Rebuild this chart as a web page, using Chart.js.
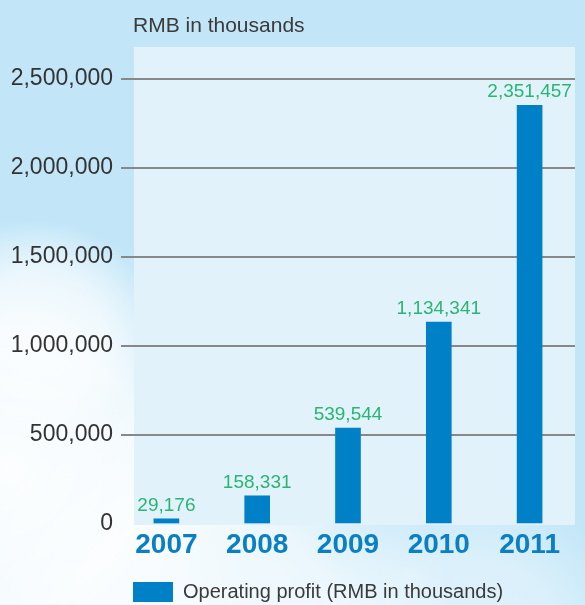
<!DOCTYPE html>
<html>
<head>
<meta charset="utf-8">
<script src="https://cdn.jsdelivr.net/npm/chart.js@4.4.1/dist/chart.umd.min.js"></script>
<style>
  html, body { margin: 0; padding: 0; background: #ffffff; }
  canvas { display: block; }
</style>
</head>
<body>
<canvas id="chart-1" width="585" height="605"></canvas>
<script>
// Operating profit by year
const years = ["2007", "2008", "2009", "2010", "2011"];
const operatingProfit = [29176, 158331, 539544, 1134341, 2351457];
const yMin = 0;
const yMax = 2500000;
const yStep = 500000;
const unitTitle = "RMB in thousands";
const seriesName = "Operating profit (RMB in thousands)";

const FONT = "'Liberation Sans', Arial, Helvetica, sans-serif";
const fmt = (v) => v.toLocaleString("en-US");

// sky background + light panel behind the plot
const skyPanel = {
  id: "skyPanel",
  beforeDraw(chart) {
    const { ctx, width, height, chartArea } = chart;
    ctx.save();
    ctx.fillStyle = "#c2e6f8";
    ctx.fillRect(0, 0, width, height);

    const cloud = (x, y, r, a) => {
      const g = ctx.createRadialGradient(x, y, 0, x, y, r);
      g.addColorStop(0, "rgba(255,255,255," + a + ")");
      g.addColorStop(0.55, "rgba(255,255,255," + a * 0.8 + ")");
      g.addColorStop(1, "rgba(255,255,255,0)");
      ctx.fillStyle = g;
      ctx.fillRect(0, 0, width, height);
    };
    cloud(10, 470, 250, 0.95);
    cloud(200, 650, 260, 0.85);
    cloud(470, 650, 170, 0.5);
    cloud(40, 330, 110, 0.6);

    ctx.fillStyle = "#e1f2fb";
    const px = chartArea.left + 13;
    const py = chartArea.top - 32;
    ctx.fillRect(px, py, chartArea.right - px, chartArea.bottom + 1 - py);

    ctx.fillStyle = "#3a3a3a";
    ctx.font = "21px " + FONT;
    ctx.textAlign = "left";
    ctx.textBaseline = "alphabetic";
    ctx.fillText(unitTitle, chartArea.left + 12, 32);
    ctx.restore();
  },
};

// value text above each bar
const valueLabels = {
  id: "valueLabels",
  afterDatasetsDraw(chart) {
    const { ctx } = chart;
    const meta = chart.getDatasetMeta(0);
    ctx.save();
    ctx.fillStyle = "#2ab572";
    ctx.font = "19px " + FONT;
    ctx.textAlign = "center";
    ctx.textBaseline = "alphabetic";
    meta.data.forEach((bar, i) => {
      ctx.fillText(fmt(operatingProfit[i]), bar.x, bar.y - 8);
    });
    ctx.restore();
  },
};

// put the legend under the plot, lined up with the panel
const legendPlace = {
  id: "legendPlace",
  afterLayout(chart) {
    chart.legend.left = chart.chartArea.left + 2;
    chart.legend.top = 572;
  },
};

const ctx = document.getElementById("chart-1").getContext("2d");
const myChart = new Chart(ctx, {
  type: "bar",
  data: {
    labels: years,
    datasets: [
      {
        label: seriesName,
        data: operatingProfit,
        backgroundColor: "#0080c6",
        borderWidth: 0,
        barThickness: 25,
        categoryPercentage: 1,
      },
    ],
  },
  options: {
    responsive: false,
    animation: false,
    layout: { padding: { top: 79, right: 10, left: 0, bottom: 0 } },
    scales: {
      x: {
        grid: { display: false },
        border: { display: false },
        ticks: {
          color: "#0a7fc4",
          font: { family: FONT, size: 28, weight: "bold" },
          padding: -4,
          maxRotation: 0,
        },
        afterFit(scale) {
          scale.height = 41;
        },
      },
      y: {
        min: yMin,
        max: yMax,
        border: { display: false },
        grid: {
          drawTicks: false,
          lineWidth: 2,
          color: (c) => (c.tick && c.tick.value === 0 ? "rgba(0,0,0,0)" : "#888888"),
        },
        ticks: {
          stepSize: yStep,
          color: "#333333",
          font: { family: FONT, size: 23 },
          padding: 8,
          callback: (v) => fmt(v),
        },
        afterFit(scale) {
          scale.width = 121;
        },
      },
    },
    plugins: {
      legend: {
        position: "bottom",
        align: "start",
        labels: {
          boxWidth: 40,
          boxHeight: 20,
          padding: 10,
          color: "#3a3a3a",
          font: { family: FONT, size: 20 },
        },
      },
      tooltip: { enabled: false },
    },
  },
  plugins: [skyPanel, valueLabels, legendPlace],
});
</script>
</body>
</html>
